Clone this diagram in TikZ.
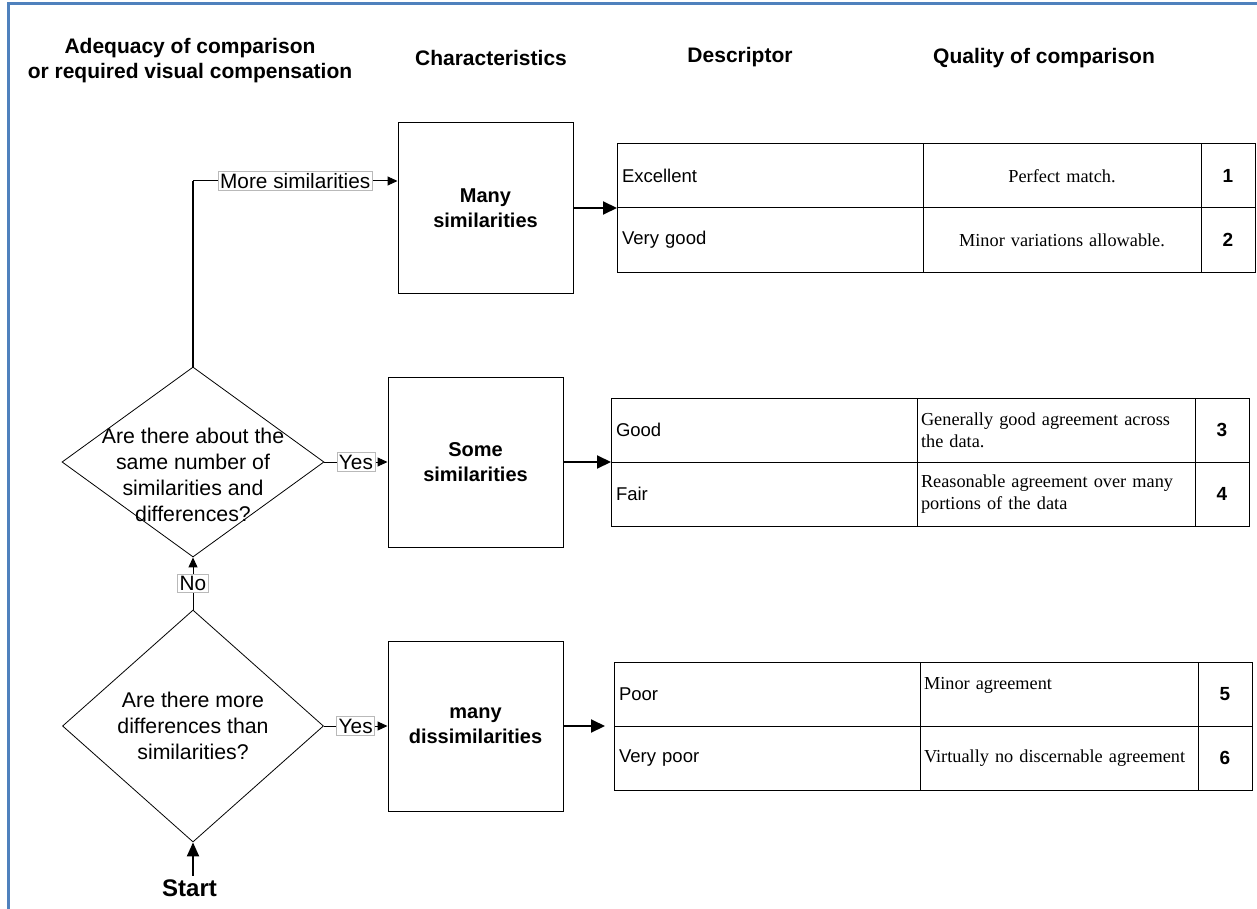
\documentclass[tikz,border=0pt]{standalone}
\usepackage{fontspec}
\setmainfont{Liberation Sans}
\newfontfamily\descfont{Liberation Serif}
\usetikzlibrary{positioning,shapes.geometric,arrows.meta}
\definecolor{frameblue}{RGB}{79,129,189}
\definecolor{labelgray}{RGB}{185,185,185}
\begin{document}
\begin{tikzpicture}[x=1pt,y=-1pt,
  head/.style={font=\bfseries\fontsize{21}{25}\selectfont, align=center},
  charbox/.style={draw, line width=1pt, minimum width=175pt, minimum height=170pt, align=center, font=\bfseries\fontsize{20}{25}\selectfont},
  decision/.style={draw, diamond, line width=0.8pt, inner sep=0pt},
  question/.style={align=center, font=\fontsize{21.3}{26}\selectfont},
  tag/.style={draw=labelgray, fill=white, line width=0.8pt, inner xsep=2pt, inner ysep=2pt, font=\fontsize{20.8}{22}\selectfont},
  cell/.style={draw, line width=1pt, outer sep=0pt, minimum height=64pt},
  descr/.style={cell, inner xsep=5pt, text width=296pt, align=left, font=\fontsize{18.5}{22}\selectfont},
  qual/.style={cell, inner xsep=4pt, text width=270pt, align=left, font=\descfont\fontsize{18.3}{22}\selectfont},
  grade/.style={cell, minimum width=54pt, font=\bfseries\fontsize{19}{22}\selectfont},
  bigarrow/.style={line width=2pt, -{Triangle[length=14pt,width=13pt]}},
  smallarrow/.style={line width=1pt, -{Triangle[length=10pt,width=9pt]}}]
\useasboundingbox (0,0) rectangle (1257,909);
\draw[frameblue, line width=3pt] (8,909) -- (8,4) -- (1257,4);

\node[head] (hadeq) at (190,61) {Adequacy of comparison\\or required visual compensation};
\node[head] (hchar) at (491,58) {Characteristics};
\node[head] (hdesc) at (740,57) {Descriptor};
\node[head] (hqual) at (1044,58) {Quality of comparison};

\node[charbox] (many) at (485.5,208) {Many\\similarities};
\node[charbox] (some) at (475.5,462) {Some\\similarities};
\node[charbox] (dissim) at (475.5,726) {many\\dissimilarities};

\node[decision, minimum width=262pt, minimum height=190pt] (same) at (193,462) {};
\node[question] (sametext) at (193,475) {Are there about the\\same number of\\similarities and\\differences?};
\node[decision, minimum width=261pt, minimum height=232pt] (more) at (193,726) {};
\node[question] (moretext) at (193,726) {Are there more\\differences than\\similarities?};
\node[font=\bfseries\fontsize{24}{28}\selectfont] (start) at (189.5,888) {Start};

\node[descr, anchor=north west] (exc) at (617,144) {Excellent};
\node[qual, align=center, right=0pt of exc] (excq) {Perfect match.};
\node[grade, right=0pt of excq] (g1) {1};
\node[descr, below=0pt of exc] (vgood) {Very good};
\node[qual, align=center, right=0pt of vgood] (vgoodq) {Minor variations allowable.};
\node[grade, right=0pt of vgoodq] (g2) {2};

\node[descr, anchor=north west] (good) at (611,398) {Good};
\node[qual, right=0pt of good] (goodq) {Generally good agreement across\\the data.};
\node[grade, right=0pt of goodq] (g3) {3};
\node[descr, below=0pt of good] (fair) {Fair};
\node[qual, right=0pt of fair] (fairq) {Reasonable agreement over many\\portions of the data};
\node[grade, right=0pt of fairq] (g4) {4};

\node[descr, anchor=north west] (poor) at (614,662) {Poor};
\node[qual, right=0pt of poor] (poorq) {Minor agreement\\~};
\node[grade, right=0pt of poorq] (g5) {5};
\node[descr, below=0pt of poor] (vpoor) {Very poor};
\node[qual, right=0pt of vpoor] (vpoorq) {Virtually no discernable agreement};
\node[grade, right=0pt of vpoorq] (g6) {6};

\draw[bigarrow] (many.east) -- (exc.south west);
\draw[bigarrow] (some.east) -- (good.south west);
\draw[bigarrow, shorten >=9pt] (dissim.east) -- (poor.south west);

\coordinate (manyin) at ([yshift=27pt]many.west);
\coordinate (bend) at (same.north |- manyin);
\draw[line width=2pt] (same.north) -- (bend);
\draw[smallarrow] (bend) -- node[tag] (tmore) {More similarities} (manyin);
\draw[smallarrow] (same.east) -- node[tag] (tyes1) {Yes} (some.west);
\draw[smallarrow] (more.east) -- node[tag] (tyes2) {Yes} (dissim.west);
\draw[smallarrow] (more.north) -- node[tag] (tno) {No} (same.south);
\draw[line width=2pt, -{Triangle[length=14pt,width=12pt]}] (more.south |- start.north) -- (more.south);
\end{tikzpicture}
\end{document}
